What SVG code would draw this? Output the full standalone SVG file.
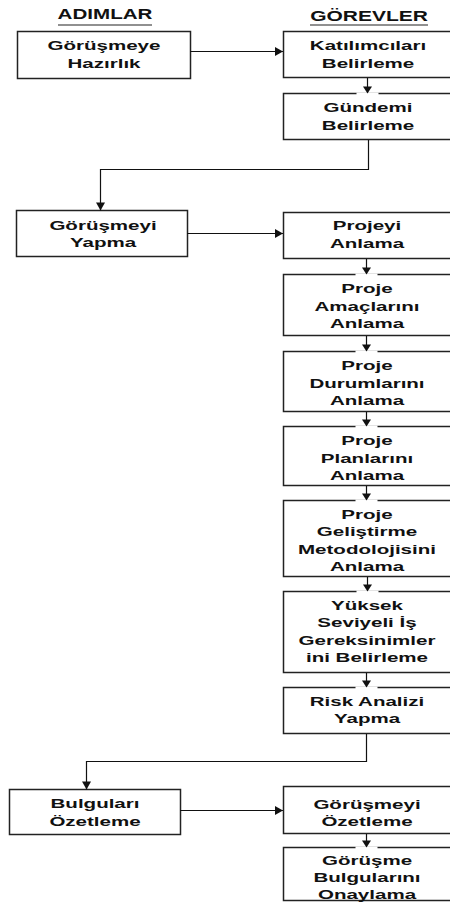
<svg xmlns="http://www.w3.org/2000/svg" width="450" height="911" viewBox="0 0 450 911">
  <style>
    .box { fill: #ffffff; stroke: #222222; stroke-width: 1.5; }
    .lbl { font-family: "Liberation Sans", Arial, sans-serif; font-weight: bold; font-size: 13px; text-anchor: middle; fill: #111111; }
    .hdr { font-family: "Liberation Sans", Arial, sans-serif; font-weight: bold; font-size: 14px; text-anchor: middle; fill: #111111; }
    .rule { stroke: #222222; stroke-width: 1.2; }
    .wire { fill: none; stroke: #111111; stroke-width: 1.2; }
  </style>
  <defs>
    <marker id="arrow" markerUnits="userSpaceOnUse" viewBox="-9 -6 10 12" refX="0" refY="0" markerWidth="10" markerHeight="12" orient="auto">
      <path d="M0,0 L-8,-4.5 L-8,4.5 Z" fill="#111111"/>
    </marker>
    <!-- down arrow that breaks the top edge of the box it enters -->
    <marker id="arrowGap" markerUnits="userSpaceOnUse" viewBox="-9 -12 11 24" refX="0" refY="0" markerWidth="11" markerHeight="24" orient="auto">
      <rect x="-1" y="-11" width="2.5" height="22" fill="#ffffff"/>
      <path d="M0,0 L-7,-4.5 L-7,4.5 Z" fill="#111111"/>
    </marker>
  </defs>

  <rect x="0" y="0" width="450" height="911" fill="#ffffff"/>

  <!-- column headers -->
  <g id="hdr-adimlar">
    <text class="hdr" transform="translate(105,19) scale(1.47,1)">ADIMLAR</text>
    <line class="rule" x1="58" y1="25" x2="152" y2="25"/>
  </g>
  <g id="hdr-gorevler">
    <text class="hdr" transform="translate(369,21) scale(1.5,1)">GÖREVLER</text>
    <line class="rule" x1="310" y1="25" x2="428" y2="25"/>
  </g>

  <!-- steps (left column) -->
  <g id="step-hazirlik">
    <rect class="box" x="17.5" y="31.5" width="173" height="47"/>
    <g transform="translate(104,0) scale(1.58,1)">
      <text class="lbl" y="50">Görüşmeye</text>
      <text class="lbl" y="68">Hazırlık</text>
    </g>
  </g>
  <g id="step-yapma">
    <rect class="box" x="16.5" y="210.5" width="171" height="46"/>
    <g transform="translate(103,0) scale(1.58,1)">
      <text class="lbl" y="230.5">Görüşmeyi</text>
      <text class="lbl" y="247.5">Yapma</text>
    </g>
  </g>
  <g id="step-ozetleme">
    <rect class="box" x="9.5" y="789.5" width="171" height="45"/>
    <g transform="translate(95,0) scale(1.58,1)">
      <text class="lbl" y="808.5">Bulguları</text>
      <text class="lbl" y="826.5">Özetleme</text>
    </g>
  </g>

  <!-- tasks (right column) -->
  <g id="task-katilimcilar">
    <rect class="box" x="283.5" y="31.5" width="170" height="46"/>
    <g transform="translate(368,0) scale(1.58,1)">
      <text class="lbl" y="50">Katılımcıları</text>
      <text class="lbl" y="68">Belirleme</text>
    </g>
  </g>
  <g id="task-gundem">
    <rect class="box" x="283.5" y="93.5" width="170" height="46"/>
    <g transform="translate(368,0) scale(1.58,1)">
      <text class="lbl" y="112">Gündemi</text>
      <text class="lbl" y="130">Belirleme</text>
    </g>
  </g>
  <g id="task-proje">
    <rect class="box" x="283.5" y="212.5" width="170" height="46"/>
    <g transform="translate(367,0) scale(1.58,1)">
      <text class="lbl" y="230.5">Projeyi</text>
      <text class="lbl" y="248">Anlama</text>
    </g>
  </g>
  <g id="task-amaclar">
    <rect class="box" x="283.5" y="274.5" width="170" height="61"/>
    <g transform="translate(367,0) scale(1.58,1)">
      <text class="lbl" y="293">Proje</text>
      <text class="lbl" y="311">Amaçlarını</text>
      <text class="lbl" y="328.5">Anlama</text>
    </g>
  </g>
  <g id="task-durumlar">
    <rect class="box" x="283.5" y="351.5" width="170" height="60"/>
    <g transform="translate(367,0) scale(1.58,1)">
      <text class="lbl" y="370.5">Proje</text>
      <text class="lbl" y="388.5">Durumlarını</text>
      <text class="lbl" y="405.5">Anlama</text>
    </g>
  </g>
  <g id="task-planlar">
    <rect class="box" x="283.5" y="426.5" width="170" height="59"/>
    <g transform="translate(367,0) scale(1.58,1)">
      <text class="lbl" y="445.5">Proje</text>
      <text class="lbl" y="463">Planlarını</text>
      <text class="lbl" y="480">Anlama</text>
    </g>
  </g>
  <g id="task-metodoloji">
    <rect class="box" x="283.5" y="500.5" width="170" height="76"/>
    <g transform="translate(367,0) scale(1.58,1)">
      <text class="lbl" y="519">Proje</text>
      <text class="lbl" y="536.5">Geliştirme</text>
      <text class="lbl" y="554">Metodolojisini</text>
      <text class="lbl" y="571">Anlama</text>
    </g>
  </g>
  <g id="task-gereksinimler">
    <rect class="box" x="283.5" y="591.5" width="170" height="81"/>
    <g transform="translate(367,0) scale(1.58,1)">
      <text class="lbl" y="610">Yüksek</text>
      <text class="lbl" y="627.5">Seviyeli İş</text>
      <text class="lbl" y="645">Gereksinimler</text>
      <text class="lbl" y="662.5">ini Belirleme</text>
    </g>
  </g>
  <g id="task-risk">
    <rect class="box" x="283.5" y="687.5" width="170" height="46"/>
    <g transform="translate(367,0) scale(1.58,1)">
      <text class="lbl" y="706">Risk Analizi</text>
      <text class="lbl" y="723">Yapma</text>
    </g>
  </g>
  <g id="task-gorusme-ozet">
    <rect class="box" x="283.5" y="786.5" width="170" height="47"/>
    <g transform="translate(367,0) scale(1.58,1)">
      <text class="lbl" y="809">Görüşmeyi</text>
      <text class="lbl" y="826.5">Özetleme</text>
    </g>
  </g>
  <g id="task-onaylama">
    <rect class="box" x="283.5" y="847.5" width="170" height="53"/>
    <g transform="translate(367,0) scale(1.58,1)">
      <text class="lbl" y="865">Görüşme</text>
      <text class="lbl" y="882.5">Bulgularını</text>
      <text class="lbl" y="899">Onaylama</text>
    </g>
  </g>

  <!-- connectors -->
  <g id="connectors">
    <!-- step to task -->
    <line class="wire" x1="190" y1="51.5" x2="283" y2="51.5" marker-end="url(#arrow)"/>
    <line class="wire" x1="187" y1="233.5" x2="283" y2="233.5" marker-end="url(#arrow)"/>
    <line class="wire" x1="180" y1="810.5" x2="283" y2="810.5" marker-end="url(#arrow)"/>
    <!-- task chains -->
    <line class="wire" x1="367.5" y1="78" x2="367.5" y2="93.5" marker-end="url(#arrowGap)"/>
    <line class="wire" x1="366.5" y1="259" x2="366.5" y2="274.5" marker-end="url(#arrowGap)"/>
    <line class="wire" x1="366.5" y1="336" x2="366.5" y2="351.5" marker-end="url(#arrowGap)"/>
    <line class="wire" x1="366.5" y1="412" x2="366.5" y2="426.5" marker-end="url(#arrowGap)"/>
    <line class="wire" x1="366.5" y1="486" x2="366.5" y2="500.5" marker-end="url(#arrowGap)"/>
    <line class="wire" x1="367.5" y1="577" x2="367.5" y2="591.5" marker-end="url(#arrowGap)"/>
    <line class="wire" x1="366.5" y1="673" x2="366.5" y2="687.5" marker-end="url(#arrowGap)"/>
    <line class="wire" x1="366.5" y1="834" x2="366.5" y2="847.5" marker-end="url(#arrowGap)"/>
    <!-- last task to next step -->
    <path class="wire" d="M368.5,140 V169.5 H100.5 V210.5" marker-end="url(#arrow)"/>
    <path class="wire" d="M366.5,734 V761.5 H86.5 V789.5" marker-end="url(#arrow)"/>
  </g>
</svg>
